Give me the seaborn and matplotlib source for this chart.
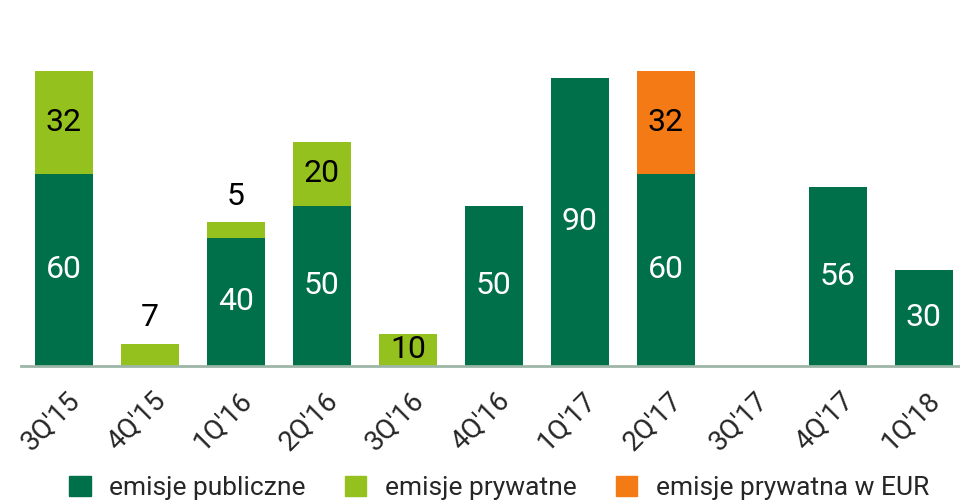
import numpy as np
import pandas as pd
import seaborn as sns
import matplotlib.pyplot as plt
import matplotlib.transforms as mtransforms
from matplotlib.patches import Patch

quarters = ["3Q'15", "4Q'15", "1Q'16", "2Q'16", "3Q'16", "4Q'16",
            "1Q'17", "2Q'17", "3Q'17", "4Q'17", "1Q'18"]
publiczne = [60, 0, 40, 50, 0, 50, 90, 60, 0, 56, 30]
prywatne = [32, 7, 5, 20, 10, 0, 0, 0, 0, 0, 0]
prywatna_eur = [0, 0, 0, 0, 0, 0, 0, 32, 0, 0, 0]

c_pub = '#00704A'
c_prv = '#95C11F'
c_eur = '#F47A15'

sns.set_theme(style='white')
plt.rcParams['font.family'] = ['Roboto', 'DejaVu Sans']

df = pd.DataFrame({'kw': quarters, 'pub': publiczne, 'prv': prywatne, 'eur': prywatna_eur})
df['lvl2'] = df['pub'] + df['prv']
df['lvl3'] = df['lvl2'] + df['eur']

fig = plt.figure(figsize=(9.6, 5.04), dpi=100)
ax = fig.add_axes([21 / 960, 0.274, 1 - 21 / 960, 0.635])

# stacked: draw cumulative totals first, then overlay lower layers
sns.barplot(data=df, x='kw', y='lvl3', order=quarters, color=c_eur, saturation=1,
            width=0.67, linewidth=0, ax=ax)
sns.barplot(data=df, x='kw', y='lvl2', order=quarters, color=c_prv, saturation=1,
            width=0.67, linewidth=0, ax=ax)
sns.barplot(data=df, x='kw', y='pub', order=quarters, color=c_pub, saturation=1,
            width=0.67, linewidth=0, ax=ax)

fs_val = 23
for i in range(len(quarters)):
    p, q, e = publiczne[i], prywatne[i], prywatna_eur[i]
    if p > 0:
        ax.text(i, p / 2, str(p), ha='center', va='center', color='white', fontsize=fs_val)
    if q > 0:
        if q >= 10:
            ax.text(i, p + q / 2, str(q), ha='center', va='center', color='black', fontsize=fs_val)
        else:
            ax.annotate(str(q), (i, p + q), xytext=(0, 8), textcoords='offset points',
                        ha='center', va='bottom', color='black', fontsize=fs_val)
    if e > 0:
        ax.text(i, p + q + e / 2, str(e), ha='center', va='center', color='black', fontsize=fs_val)

ax.set_ylim(0, 100)
ax.set_xlim(-0.5, 10.42)
ax.set_xlabel('')
ax.set_ylabel('')
ax.set_yticks([])
for s in ['top', 'right', 'left']:
    ax.spines[s].set_visible(False)
ax.spines['bottom'].set_color('#9DB5A6')
ax.spines['bottom'].set_linewidth(2)
ax.tick_params(axis='x', length=0, pad=22)
ax.set_xticks(range(len(quarters)))
ax.set_xticklabels(quarters, rotation=45, ha='right', va='center',
                   rotation_mode='anchor', fontsize=20)
shift = mtransforms.ScaledTranslation(12 / 100, 0, fig.dpi_scale_trans)
for lab in ax.get_xticklabels():
    lab.set_transform(lab.get_transform() + shift)

handles = [Patch(color=c_pub, label='emisje publiczne'),
           Patch(color=c_prv, label='emisje prywatne'),
           Patch(color=c_eur, label='emisje prywatna w EUR')]
fig.legend(handles=handles, loc='lower center', bbox_to_anchor=(0.52, -0.04), ncol=3,
           frameon=False, fontsize=19, handlelength=0.8, handleheight=0.8,
           columnspacing=1.5, handletextpad=0.7)

fig.savefig('out.png', dpi=100)
